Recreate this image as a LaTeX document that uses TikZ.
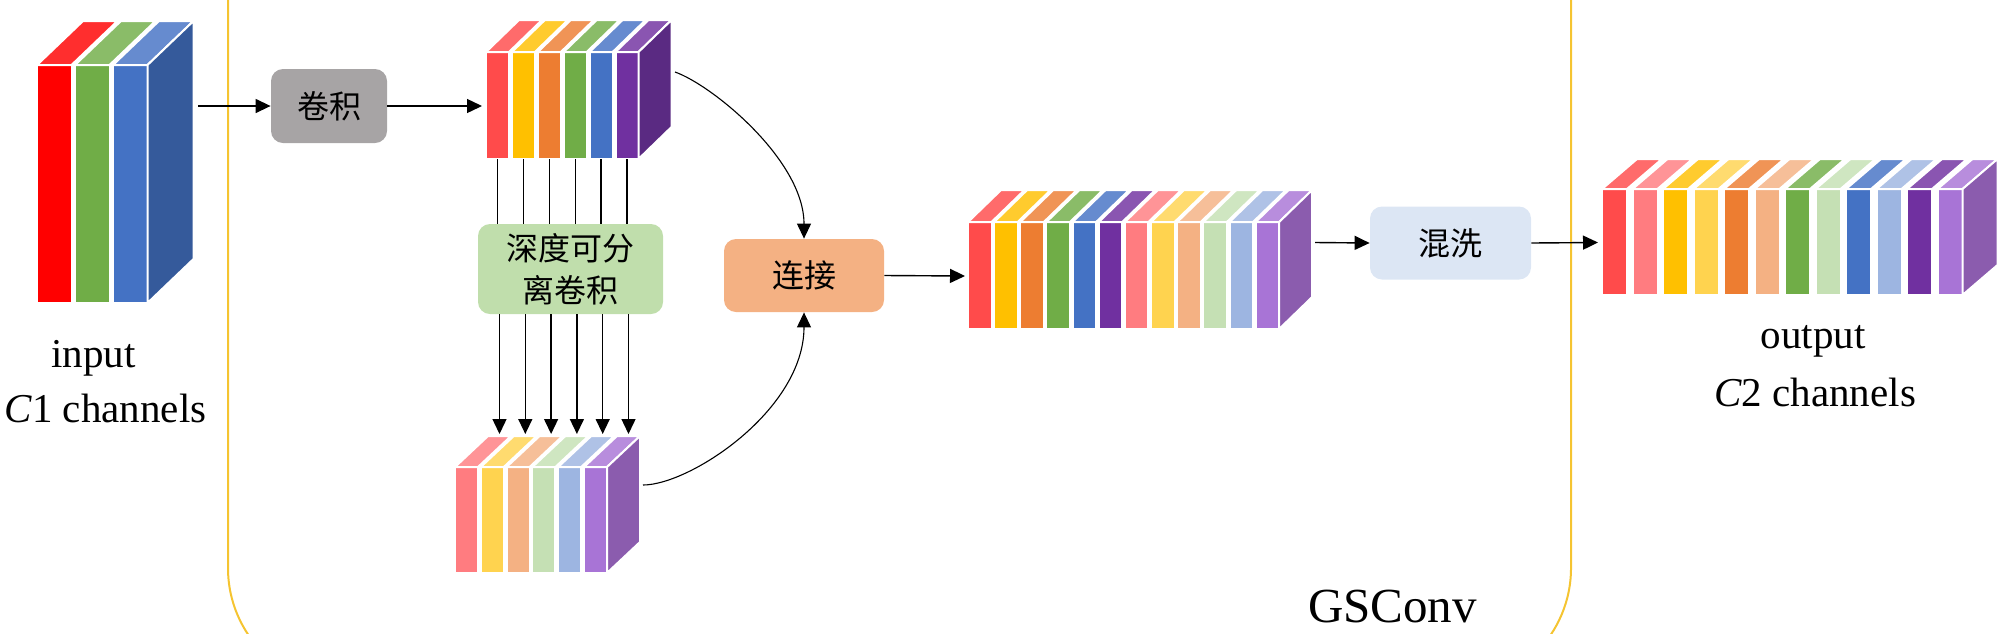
\documentclass[tikz,border=0pt]{standalone}
\usepackage{fontspec}
\setmainfont{Liberation Serif}
\newfontfamily\cjk{Noto Sans CJK SC}
\usetikzlibrary{arrows.meta}
% colours
\definecolor{cRed}{HTML}{FF0000}
\definecolor{cGreen}{HTML}{70AD47}
\definecolor{cBlue}{HTML}{4472C4}
\definecolor{cSideBlue}{HTML}{355A9B}
\definecolor{dRed}{HTML}{FF4B4B}
\definecolor{dYel}{HTML}{FFC000}
\definecolor{dOra}{HTML}{ED7D31}
\definecolor{dGre}{HTML}{70AD47}
\definecolor{dBlu}{HTML}{4472C4}
\definecolor{dPur}{HTML}{7030A0}
\definecolor{dSide}{HTML}{5A2A82}
\definecolor{lPink}{HTML}{FF7C80}
\definecolor{lYel}{HTML}{FFD34F}
\definecolor{lPea}{HTML}{F4B183}
\definecolor{lGre}{HTML}{C5E0B4}
\definecolor{lBlu}{HTML}{9DB5E1}
\definecolor{lPur}{HTML}{A874D6}
\definecolor{lSide}{HTML}{8B5CAE}
\definecolor{convGray}{HTML}{A7A4A5}
\definecolor{dwGreen}{HTML}{C0DEAC}
\definecolor{catOrange}{HTML}{F4B183}
\definecolor{shufBlue}{HTML}{DCE6F4}
\definecolor{frameYel}{HTML}{F5C431}
% #1 x0, #2 slab width, #3 period, #4 ytop, #5 ybot, #6 dx, #7 depth up, #8 side colour, #9 colour list
\newcommand\featblock[9]{%
  \foreach \c [count=\i from 0] in {#9} {
    \pgfmathsetmacro\xa{#1+\i*#3}
    \pgfmathsetmacro\xb{\xa+#2}
    \filldraw[fill=\c, slabedge] (\xa,#5) rectangle (\xb,#4);
    \filldraw[fill={\c!82!white}, slabedge] (\xa,#4) -- (\xa+#6,#4-#7) -- (\xb+#6,#4-#7) -- (\xb,#4) -- cycle;
    \xdef\lastxb{\xb}
  }
  \filldraw[fill=#8, slabedge] (\lastxb,#4) -- (\lastxb+#6,#4-#7) -- (\lastxb+#6,#5-#7) -- (\lastxb,#5) -- cycle;
}
\tikzset{
  slabedge/.style={draw=white, line width=1pt, line join=miter},
  conn/.style={-{Triangle[length=7.5pt,width=7pt]}, line width=0.7pt, black},
  curveconn/.style={-{Triangle[length=7.5pt,width=7pt]}, line width=0.55pt, black},
  plainline/.style={line width=0.7pt, black},
  procbox/.style={rounded corners=6pt, inner sep=0pt, font=\cjk\fontsize{16}{21}\selectfont, align=center},
  lbl/.style={inner sep=0pt, anchor=base, font=\fontsize{20.5}{24}\selectfont},
}
\begin{document}
\begin{tikzpicture}[x=0.5pt,y=-0.5pt]
\useasboundingbox (0,0) rectangle (2000,633);
\begin{scope}
\clip (0,0) rectangle (2000,633);
\draw[frameYel, line width=1pt, rounded corners=60pt] (228,-300) rectangle (1571,688);
\end{scope}

% input block
\featblock{37}{34.5}{38}{65}{303}{46}{44}{cSideBlue}{cRed,cGreen,cBlue}
% block after conv
\featblock{486}{23}{25.9}{52}{159}{33}{32}{dSide}{dRed,dYel,dOra,dGre,dBlu,dPur}
% block after depthwise conv
\featblock{455}{23}{25.8}{467}{573}{33}{31}{lSide}{lPink,lYel,lPea,lGre,lBlu,lPur}
% concatenated block
\featblock{968}{23.5}{26.15}{222}{329}{33}{32}{lSide}{dRed,dYel,dOra,dGre,dBlu,dPur,lPink,lYel,lPea,lGre,lBlu,lPur}
% output block
\featblock{1602}{25}{30.5}{189}{295}{35}{30}{lSide}{dRed,lPink,dYel,lYel,dOra,lPea,dGre,lGre,dBlu,lBlu,dPur,lPur}

% anchor coordinates on the blocks
\coordinate (inOut) at (198,106);
\coordinate (b2In) at (482,106);
\coordinate (b2Out) at (675,72);
\coordinate (b3Out) at (643,485);
\coordinate (b4In) at (965,276);
\coordinate (b4Out) at (1315,242.5);
\coordinate (b5In) at (1598,242.5);

% process boxes
\node[procbox, fill=convGray, minimum width=58pt, minimum height=37pt] (conv) at (329,106) {卷积};
\node[procbox, fill=dwGreen, minimum width=92.5pt, minimum height=45pt] (dw) at (570.5,269) {深度可分\\离卷积};
\node[procbox, fill=catOrange, minimum width=80pt, minimum height=36.5pt] (cat) at (804,275.5) {连接};
\node[procbox, fill=shufBlue, minimum width=80.5pt, minimum height=36.5pt] (shuf) at (1450.5,243) {混洗};

% connectors
\draw[conn] (inOut) -- (conv.west);
\draw[conn] (conv.east) -- (b2In);
\foreach \i in {0,...,5} {
  \pgfmathsetmacro\xu{486+11.5+\i*25.9}
  \pgfmathsetmacro\xl{455+11.5+33+\i*25.8}
  \coordinate (up\i) at (\xu,159);
  \coordinate (dn\i) at (\xl,434);
  \draw[plainline] (up\i) -- (up\i |- dw.north);
  \draw[conn] (dn\i |- dw.south) -- (dn\i);
}
\draw[curveconn] (b2Out) .. controls (712,85) and (804,160) .. (cat.north);
\draw[curveconn] (b3Out) .. controls (690,485) and (804,410) .. (cat.south);
\draw[conn] (cat.east) -- (b4In);
\draw[conn] (b4Out) -- (shuf.west);
\draw[conn] (shuf.east) -- (b5In);

% labels
\node[lbl] (inA) at (93.5,367) {input};
\node[lbl] (inB) at (105.5,422) {\textit{C}1 channels};
\node[lbl] (outA) at (1813,348) {output};
\node[lbl] (outB) at (1815,406) {\textit{C}2 channels};
\node[inner sep=0pt, anchor=base, font=\fontsize{24.5}{29}\selectfont] (gs) at (1392.5,622) {GSConv};
\end{tikzpicture}
\end{document}
